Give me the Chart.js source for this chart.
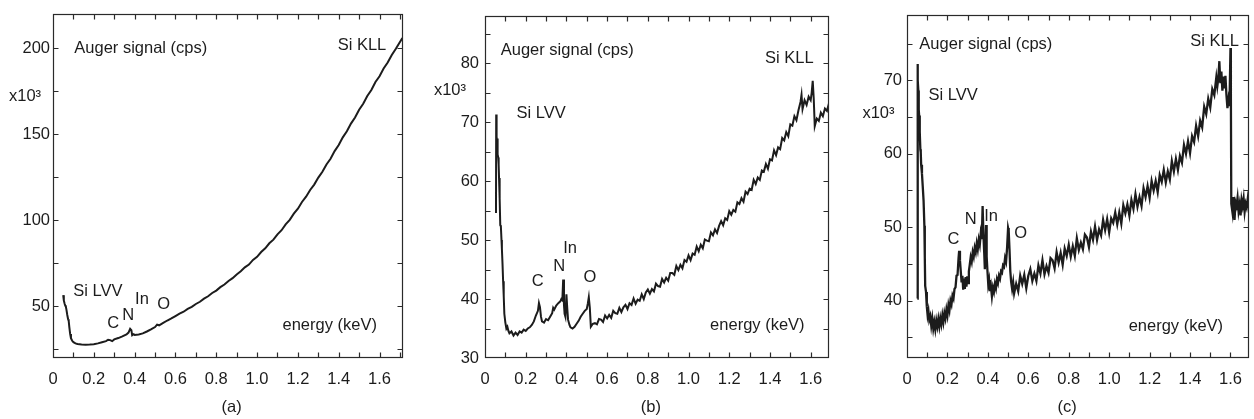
<!DOCTYPE html>
<html lang="en">
<head>
<meta charset="UTF-8">
<title>Auger spectra (a) (b) (c)</title>
<script src="https://cdn.jsdelivr.net/npm/chart.js"></script>
<style>
  body { margin: 0; background: #fff; }
  #wrap { position: relative; width: 1254px; height: 419px; }
  canvas { position: absolute; top: 0; }
</style>
</head>
<body>
<div id="wrap">
  <canvas id="chartA" width="418" height="419" style="left:0px"></canvas>
  <canvas id="chartB" width="418" height="419" style="left:418px"></canvas>
  <canvas id="chartC" width="418" height="419" style="left:836px"></canvas>
</div>
<script>
// ---- data (energy in keV, signal in 10^3 cps) ----
const xTickValues = [0, 0.2, 0.4, 0.6, 0.8, 1.0, 1.2, 1.4, 1.6];

// panel (a)
const aEnergy = [0.050, 0.053, 0.057, 0.060, 0.063, 0.066, 0.070, 0.074, 0.077, 0.080, 0.084, 0.088, 0.094, 0.100,
  0.110, 0.120, 0.140, 0.160, 0.180, 0.200, 0.220, 0.240, 0.260, 0.270, 0.280, 0.290, 0.300, 0.320, 0.340, 0.360,
  0.370, 0.378, 0.384, 0.388, 0.395, 0.400, 0.420, 0.440, 0.460, 0.480, 0.500, 0.510, 0.520, 0.540, 0.560, 0.580,
  0.600, 0.620, 0.640, 0.660, 0.680, 0.700, 0.720, 0.740, 0.760, 0.780, 0.800, 0.820, 0.840, 0.860, 0.880, 0.900,
  0.920, 0.940, 0.960, 0.980, 1.000, 1.020, 1.040, 1.060, 1.080, 1.100, 1.120, 1.140, 1.160, 1.180, 1.200, 1.220,
  1.240, 1.260, 1.280, 1.300, 1.320, 1.340, 1.360, 1.380, 1.400, 1.420, 1.440, 1.460, 1.480, 1.500, 1.520, 1.540,
  1.560, 1.580, 1.600, 1.620, 1.640, 1.660, 1.680, 1.700, 1.712];
const aSignal = [56.5, 53.5, 51.5, 50.5, 49.8, 48.0, 45.0, 42.5, 41.5, 38.0, 34.0, 31.5, 30.0, 29.2,
  28.5, 28.1, 27.8, 27.7, 27.8, 28.0, 28.5, 29.2, 29.8, 30.6, 30.4, 29.8, 30.8, 31.6, 32.6, 33.7,
  34.8, 37.0, 36.2, 33.2, 33.8, 33.4, 33.7, 34.3, 35.4, 36.6, 38.0, 39.4, 39.0, 40.4, 41.8, 43.0,
  44.4, 45.8, 46.9, 48.5, 49.7, 51.4, 52.7, 54.5, 55.9, 57.8, 59.2, 61.2, 62.7, 64.8, 66.4, 68.6,
  70.4, 72.7, 74.3, 77.0, 78.8, 81.6, 83.8, 86.7, 88.8, 91.9, 94.3, 97.7, 100.3, 103.9, 106.8, 110.7,
  113.8, 117.7, 120.8, 124.9, 128.3, 132.5, 135.8, 140.3, 143.8, 148.3, 151.8, 156.3, 159.8, 164.3, 167.8, 172.3,
  175.8, 180.5, 183.8, 188.3, 191.8, 196.2, 199.8, 203.7, 206.0];
const aYTicks = [50, 100, 150, 200];
const aYMinor = [25, 50, 75, 100, 125, 150, 175, 200];

// panel (b)
const bEnergy = [0.054, 0.055, 0.057, 0.059, 0.061, 0.063, 0.065, 0.067, 0.069, 0.071, 0.073, 0.075, 0.078, 0.081,
  0.083, 0.086, 0.089, 0.092, 0.095, 0.100, 0.105, 0.110, 0.115, 0.120, 0.130, 0.140, 0.150, 0.160, 0.170, 0.180,
  0.190, 0.200, 0.210, 0.220, 0.230, 0.240, 0.250, 0.260, 0.265, 0.270, 0.275, 0.280, 0.290, 0.300, 0.310, 0.320,
  0.330, 0.335, 0.340, 0.350, 0.360, 0.370, 0.375, 0.380, 0.384, 0.388, 0.391, 0.395, 0.400, 0.404, 0.408, 0.415,
  0.420, 0.430, 0.440, 0.450, 0.460, 0.470, 0.480, 0.490, 0.500, 0.505, 0.510, 0.515, 0.520, 0.530,
  0.54, 0.55, 0.56, 0.57, 0.58, 0.59, 0.60, 0.61, 0.62, 0.63, 0.64, 0.65, 0.66, 0.67, 0.68, 0.69,
  0.70, 0.71, 0.72, 0.73, 0.74, 0.75, 0.76, 0.77, 0.78, 0.79, 0.80, 0.81, 0.82, 0.83, 0.84, 0.85,
  0.86, 0.87, 0.88, 0.89, 0.90, 0.91, 0.92, 0.93, 0.94, 0.95, 0.96, 0.97, 0.98, 0.99, 1.00, 1.01,
  1.02, 1.03, 1.04, 1.05, 1.06, 1.07, 1.08, 1.09, 1.10, 1.11, 1.12, 1.13, 1.14, 1.15, 1.16, 1.17,
  1.18, 1.19, 1.20, 1.21, 1.22, 1.23, 1.24, 1.25, 1.26, 1.27, 1.28, 1.29, 1.30, 1.31, 1.32, 1.33,
  1.34, 1.35, 1.36, 1.37, 1.38, 1.39, 1.40, 1.41, 1.42, 1.43, 1.44, 1.45, 1.46, 1.47, 1.48, 1.49,
  1.50, 1.51, 1.52, 1.53, 1.54, 1.55, 1.555, 1.56, 1.57, 1.58, 1.59, 1.60, 1.605, 1.61, 1.615, 1.62,
  1.63, 1.64, 1.65, 1.66, 1.67, 1.68, 1.69];
const bSignal = [54.6, 71.3, 67.5, 66.8, 67.2, 64.5, 64.0, 62.8, 60.5, 57.5, 57.0, 52.5, 52.3, 50.0,
  48.5, 46.0, 43.0, 40.5, 37.5, 36.0, 35.0, 35.3, 34.6, 34.2, 34.5, 33.8, 34.3, 33.9, 34.5, 34.3,
  34.8, 34.6, 35.0, 35.2, 35.6, 36.2, 37.2, 38.0, 39.3, 38.6, 37.0, 36.2, 36.0, 36.6, 36.4, 37.0,
  37.6, 38.5, 38.2, 38.9, 39.3, 39.6, 40.0, 39.8, 43.3, 39.0, 37.5, 37.0, 40.8, 38.5, 36.5, 35.6,
  35.2, 35.0, 35.3, 35.8, 36.3, 37.0, 37.5, 38.0, 38.3, 39.2, 40.3, 38.5, 35.3, 35.8,
  35.9, 35.7, 36.6, 36.5, 36.1, 37.2, 36.7, 37.3, 36.8, 38.0, 37.6, 37.5, 38.5, 37.8, 38.6, 39.0,
  38.3, 39.3, 39.0, 40.1, 39.2, 39.9, 39.7, 40.8, 40.0, 41.1, 41.6, 40.9, 41.7, 41.3, 42.6, 42.2,
  42.1, 43.4, 42.8, 43.6, 43.1, 44.4, 44.4, 44.1, 45.6, 44.9, 45.8, 45.2, 46.6, 46.3, 47.4, 46.6,
  47.7, 47.5, 48.9, 48.1, 49.2, 48.6, 50.1, 49.9, 49.8, 51.3, 50.8, 51.8, 51.2, 52.4, 53.2, 52.5,
  53.7, 53.4, 54.9, 54.3, 55.1, 54.8, 56.4, 56.1, 57.1, 56.5, 58.2, 57.8, 58.7, 58.5, 60.2, 59.5,
  60.6, 60.2, 61.8, 61.6, 62.9, 62.1, 63.7, 63.5, 65.2, 64.4, 65.7, 65.4, 67.3, 66.9, 68.3, 67.6,
  69.6, 69.4, 71.0, 70.3, 72.0, 73.4, 74.6, 72.2, 73.7, 72.9, 74.3, 73.7, 75.0, 77.0, 74.0, 69.3,
  70.6, 70.2, 71.6, 71.0, 72.3, 71.9, 73.2];
const bYTicks = [30, 40, 50, 60, 70, 80];
const bYMinor = [35, 40, 45, 50, 55, 60, 65, 70, 75, 80, 85];

// panel (c)
const cEnergy = [0.051, 0.052, 0.054, 0.056, 0.058, 0.060, 0.062, 0.064, 0.066, 0.068, 0.070, 0.074, 0.078, 0.082,
  0.086, 0.088, 0.090, 0.094, 0.098, 0.102, 0.106, 0.110, 0.115, 0.120, 0.125, 0.130, 0.135, 0.140, 0.145, 0.150,
  0.155, 0.160, 0.165, 0.170, 0.175, 0.180, 0.185, 0.190, 0.195, 0.200, 0.205, 0.210, 0.215, 0.220, 0.225, 0.230,
  0.235, 0.240, 0.245, 0.250, 0.255, 0.258, 0.262, 0.266, 0.270, 0.274, 0.278, 0.282, 0.286, 0.290, 0.294, 0.298,
  0.302, 0.306, 0.310, 0.315, 0.320, 0.325, 0.330, 0.335, 0.340, 0.345, 0.350, 0.355, 0.360, 0.365, 0.370, 0.374,
  0.378, 0.382, 0.385, 0.388, 0.391, 0.394, 0.398, 0.402, 0.406, 0.410, 0.415, 0.420, 0.425, 0.430, 0.435, 0.440,
  0.445, 0.450, 0.455, 0.460, 0.465, 0.470, 0.475, 0.480, 0.485, 0.490, 0.495, 0.500, 0.503, 0.507, 0.511, 0.515,
  0.520, 0.525, 0.530,
  0.54, 0.55, 0.56, 0.57, 0.58, 0.59, 0.60, 0.61, 0.62, 0.63, 0.64, 0.65, 0.66, 0.67, 0.68, 0.69,
  0.70, 0.71, 0.72, 0.73, 0.74, 0.75, 0.76, 0.77, 0.78, 0.79, 0.80, 0.81, 0.82, 0.83, 0.84, 0.85,
  0.86, 0.87, 0.88, 0.89, 0.90, 0.91, 0.92, 0.93, 0.94, 0.95, 0.96, 0.97, 0.98, 0.99, 1.00, 1.01,
  1.02, 1.03, 1.04, 1.05, 1.06, 1.07, 1.08, 1.09, 1.10, 1.11, 1.12, 1.13, 1.14, 1.15, 1.16, 1.17,
  1.18, 1.19, 1.20, 1.21, 1.22, 1.23, 1.24, 1.25, 1.26, 1.27, 1.28, 1.29, 1.30, 1.31, 1.32, 1.33,
  1.34, 1.35, 1.36, 1.37, 1.38, 1.39, 1.40, 1.41, 1.42, 1.43, 1.44, 1.45, 1.46, 1.47, 1.48, 1.49,
  1.50, 1.51, 1.52, 1.53, 1.535, 1.54, 1.545, 1.55, 1.555, 1.56, 1.565, 1.57, 1.575, 1.58, 1.585, 1.59,
  1.595, 1.600, 1.602, 1.604, 1.61, 1.615, 1.62, 1.625, 1.63, 1.635, 1.64, 1.645, 1.65, 1.655, 1.66, 1.665,
  1.67, 1.675, 1.68, 1.685, 1.69];
const cSignal = [40.3, 72.2, 70.0, 68.6, 66.0, 65.2, 64.9, 63.0, 60.6, 60.2, 58.5, 57.3, 55.5, 53.6,
  50.2, 46.0, 42.0, 41.2, 39.2, 38.0, 38.6, 37.4, 37.9, 36.6, 37.6, 36.2, 37.1, 36.1, 37.3, 36.5,
  37.5, 36.5, 37.6, 36.8, 38.0, 37.1, 38.3, 37.6, 38.8, 38.0, 39.4, 38.7, 40.0, 39.5, 40.7, 40.3,
  41.6, 41.8, 43.4, 43.5, 45.8, 46.8, 45.5, 44.0, 42.5, 43.4, 41.5, 43.0, 41.6, 43.2, 41.9, 43.3,
  42.4, 44.0, 44.8, 45.9, 45.3, 46.6, 46.0, 47.2, 46.6, 47.8, 47.0, 48.3, 47.6, 49.2, 48.4, 52.9,
  49.0, 46.5, 44.3, 47.5, 50.3, 46.0, 44.0, 42.2, 42.8, 41.3, 42.0, 40.6, 41.8, 41.2, 42.3, 41.7,
  42.9, 42.4, 43.4, 43.0, 44.0, 43.8, 44.8, 44.6, 45.8, 45.3, 47.2, 49.9, 49.5, 47.0, 44.0, 42.6,
  41.6, 42.5, 41.0,
  42.3, 41.3, 43.4, 42.3, 43.5, 41.7, 43.4, 44.3, 42.7, 43.7, 42.7, 44.8, 43.7, 45.5, 43.6, 44.7,
  43.8, 45.8, 45.5, 44.4, 46.6, 45.2, 46.5, 44.9, 47.1, 46.1, 47.6, 46.0, 47.4, 46.1, 48.5, 46.9,
  47.9, 47.0, 49.0, 48.6, 47.3, 49.4, 48.3, 50.1, 48.3, 49.7, 48.9, 51.0, 49.6, 51.1, 49.3, 51.2,
  50.6, 52.0, 50.4, 52.0, 50.5, 53.0, 51.9, 53.1, 51.6, 53.7, 52.5, 54.5, 52.8, 54.1, 52.9, 55.3,
  54.1, 55.6, 54.0, 56.3, 55.0, 56.3, 54.8, 57.1, 56.2, 57.8, 56.1, 57.6, 56.5, 59.0, 57.6, 59.3,
  57.8, 59.7, 58.8, 61.2, 60.0, 61.7, 60.1, 62.4, 61.6, 63.8, 62.4, 64.5, 63.6, 66.4, 65.4, 67.5,
  66.3, 68.8, 68.0, 70.4, 69.2, 70.3, 72.6, 69.6, 71.2, 68.6, 70.5, 68.9, 70.6, 68.0, 66.2, 67.4,
  66.5, 74.4, 68.0, 53.2, 52.0, 54.1, 51.0, 53.4, 52.9, 54.0, 52.2, 53.1, 51.6, 53.7, 52.9, 53.9,
  52.1, 53.2, 52.7, 53.8, 52.6];
const cYTicks = [40, 50, 60, 70];
const cYMinor = [35, 40, 45, 50, 55, 60, 65, 70, 75];

// ---- panel setup ----
const FONT = '"Liberation Sans", Arial, sans-serif';
const INK = '#1c1c1c';

const panels = [
  {
    id: 'chartA', energy: aEnergy, signal: aSignal, xMax: 1.715, yMin: 20, yMax: 220,
    yTicks: aYTicks, yMinor: aYMinor, xMinor: [0.1, 0.2, 0.3, 0.4, 0.5, 0.6, 0.7, 0.8, 0.9, 1.0, 1.1, 1.2, 1.3, 1.4, 1.5, 1.6, 1.7],
    left: 53, right: 403, yPad: 3, lineWidth: 2,
    notes: [['Auger signal (cps)', 0.43, 200], ['Si KLL', 1.514, 201.8], ['Si LVV', 0.22, 58.8],
      ['C', 0.295, 40], ['N', 0.368, 44.8], ['In', 0.436, 54.1], ['O', 0.542, 51],
      ['energy (keV)', 1.356, 39], ['x10³', -0.137, 172.2], ['(a)', 0.875, -8.7]]
  },
  {
    id: 'chartB', energy: bEnergy, signal: bSignal, xMax: 1.69, yMin: 30, yMax: 88,
    yTicks: bYTicks, yMinor: bYMinor, xMinor: [0.1, 0.2, 0.3, 0.4, 0.5, 0.6, 0.7, 0.8, 0.9, 1.0, 1.1, 1.2, 1.3, 1.4, 1.5, 1.6],
    left: 67, right: 411, yPad: 6, lineWidth: 2,
    notes: [['Auger signal (cps)', 0.404, 82.1], ['Si KLL', 1.495, 80.8], ['Si LVV', 0.276, 71.5],
      ['C', 0.259, 43], ['N', 0.364, 45.5], ['In', 0.418, 48.5], ['O', 0.516, 43.6],
      ['energy (keV)', 1.338, 35.5], ['x10³', -0.172, 75.4], ['(b)', 0.815, 21.7]]
  },
  {
    id: 'chartC', energy: cEnergy, signal: cSignal, xMax: 1.69, yMin: 32.2, yMax: 78.9,
    yTicks: cYTicks, yMinor: cYMinor, xMinor: [0.1, 0.2, 0.3, 0.4, 0.5, 0.6, 0.7, 0.8, 0.9, 1.0, 1.1, 1.2, 1.3, 1.4, 1.5, 1.6],
    left: 71, right: 417, yPad: 5, lineWidth: 2.3,
    notes: [['Auger signal (cps)', 0.39, 74.9], ['Si KLL', 1.521, 75.3], ['Si LVV', 0.228, 67.9],
      ['C', 0.23, 48.3], ['N', 0.315, 51.1], ['In', 0.416, 51.4], ['O', 0.562, 49.2],
      ['energy (keV)', 1.33, 36.5], ['x10³', -0.141, 65.5], ['(c)', 0.792, 25.5]]
  }
];

// box, inward ticks and in-plot text
function framePlugin(p) {
  return {
    id: 'frame',
    afterDraw(chart) {
      const { ctx, chartArea: a, scales: { x, y } } = chart;
      const L = Math.round(a.left) + 0.5, R = Math.round(a.right) - 0.5;
      const T = Math.round(a.top) + 0.5, B = Math.round(a.bottom) - 0.5;
      ctx.save();
      ctx.strokeStyle = '#2a2a2a';
      ctx.lineWidth = 1.2;
      ctx.strokeRect(L, T, R - L, B - T);
      ctx.beginPath();
      p.xMinor.forEach(v => {
        const px = Math.round(x.getPixelForValue(v)) + 0.5;
        ctx.moveTo(px, B); ctx.lineTo(px, B - 5);
        ctx.moveTo(px, T); ctx.lineTo(px, T + 5);
      });
      p.yMinor.forEach(v => {
        const py = Math.round(y.getPixelForValue(v)) + 0.5;
        ctx.moveTo(L, py); ctx.lineTo(L + 5, py);
        ctx.moveTo(R, py); ctx.lineTo(R - 5, py);
      });
      ctx.stroke();
      ctx.fillStyle = INK;
      ctx.font = '16.5px ' + FONT;
      ctx.textAlign = 'center';
      ctx.textBaseline = 'middle';
      p.notes.forEach(([t, e, s]) => ctx.fillText(t, x.getPixelForValue(e), y.getPixelForValue(s)));
      ctx.restore();
    }
  };
}

panels.forEach(p => {
  const cv = document.getElementById(p.id);
  const yW = 45, xH = 40;
  new Chart(cv.getContext('2d'), {
    type: 'line',
    data: {
      datasets: [{
        data: p.energy.map((e, i) => ({ x: e, y: p.signal[i] })),
        borderColor: INK,
        borderWidth: p.lineWidth,
        pointRadius: 0,
        tension: 0,
        fill: false
      }]
    },
    options: {
      responsive: false,
      animation: false,
      devicePixelRatio: 1,
      layout: { padding: { left: p.left - yW, right: cv.width - p.right, top: 14, bottom: 419 - 358 - xH } },
      plugins: { legend: { display: false }, tooltip: { enabled: false } },
      scales: {
        x: {
          type: 'linear', min: 0, max: p.xMax,
          afterBuildTicks: s => { s.ticks = xTickValues.map(v => ({ value: v })); },
          afterFit: s => { s.height = xH; },
          grid: { display: false, drawTicks: false },
          border: { display: false },
          ticks: {
            color: INK, font: { family: FONT, size: 16.5 }, padding: 12,
            maxRotation: 0, autoSkip: false,
            callback: v => v === 0 ? '0' : v.toFixed(1)
          }
        },
        y: {
          type: 'linear', min: p.yMin, max: p.yMax,
          afterBuildTicks: s => { s.ticks = p.yTicks.map(v => ({ value: v })); },
          afterFit: s => { s.width = yW; },
          grid: { display: false, drawTicks: false },
          border: { display: false },
          ticks: { color: INK, font: { family: FONT, size: 16.5 }, padding: p.yPad, autoSkip: false }
        }
      }
    },
    plugins: [framePlugin(p)]
  });
});
</script>
</body>
</html>
